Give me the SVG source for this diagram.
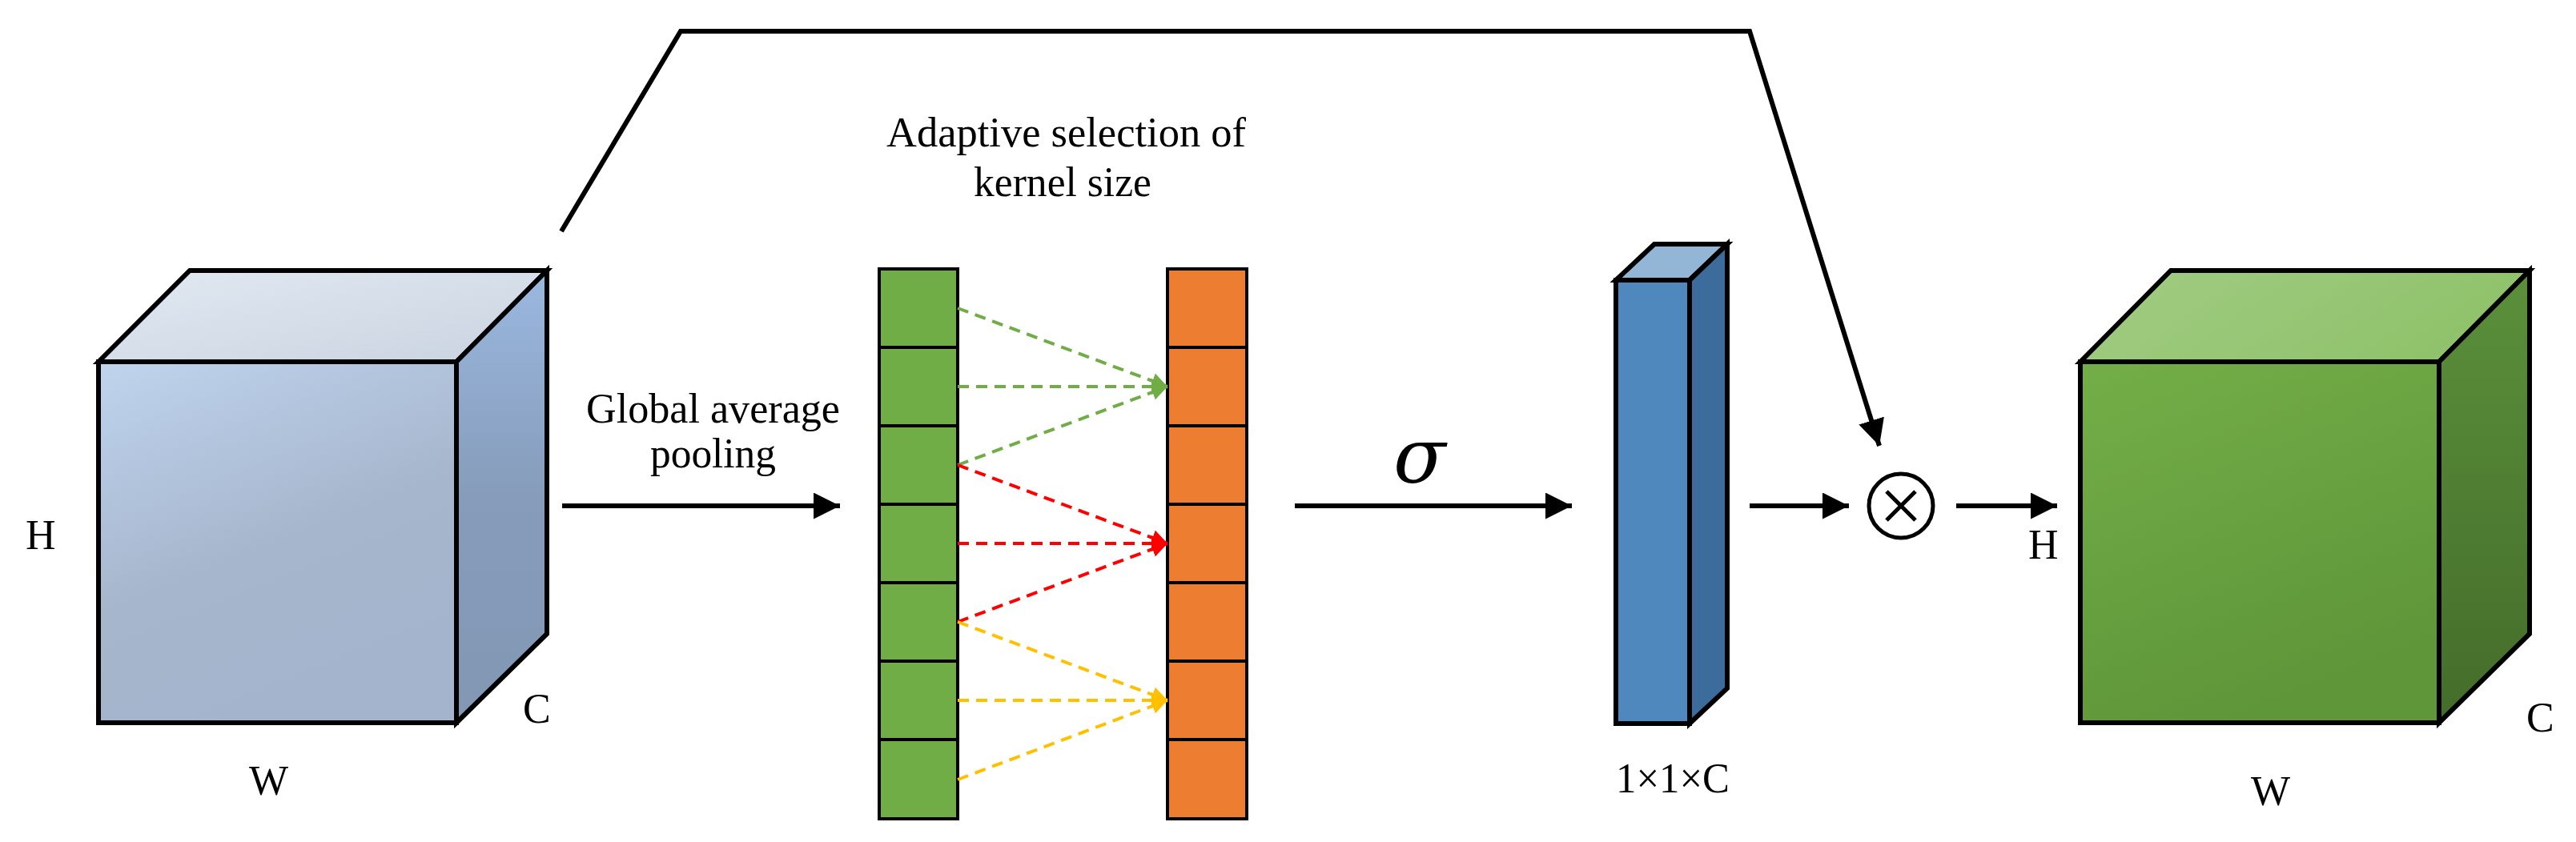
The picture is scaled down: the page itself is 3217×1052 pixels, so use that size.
<svg xmlns="http://www.w3.org/2000/svg" width="3217" height="1052" viewBox="0 0 3217 1052" font-family="'Liberation Serif', 'Times New Roman', 'DejaVu Serif', serif">
<style>
text{font-family:'Liberation Serif','Times New Roman','DejaVu Serif',serif;font-size:52px;fill:#000}
text.sig{font-family:'DejaVu Serif',serif;font-style:italic;font-size:96px}
.edge{stroke:#000;stroke-width:6;stroke-linejoin:miter}
.cell{stroke:#000;stroke-width:4}
.conn{stroke:#000;stroke-width:6;fill:none}
.dash{stroke-width:4;stroke-dasharray:14 9;fill:none}
</style>
<defs>
<marker id="ah" viewBox="0 0 10 10" refX="10" refY="5" markerWidth="5.5" markerHeight="5.5" markerUnits="strokeWidth" orient="auto"><path d="M0,0L10,5L0,10z" fill="#000"/></marker>
<marker id="ag" viewBox="0 0 10 10" refX="10" refY="5" markerWidth="5" markerHeight="5" markerUnits="strokeWidth" orient="auto"><path d="M0,0L10,5L0,10z" fill="#70ad47"/></marker>
<marker id="ar" viewBox="0 0 10 10" refX="10" refY="5" markerWidth="5" markerHeight="5" markerUnits="strokeWidth" orient="auto"><path d="M0,0L10,5L0,10z" fill="#ff0000"/></marker>
<marker id="ay" viewBox="0 0 10 10" refX="10" refY="5" markerWidth="5" markerHeight="5" markerUnits="strokeWidth" orient="auto"><path d="M0,0L10,5L0,10z" fill="#ffc000"/></marker>
<linearGradient id="bf" x1="0" y1="0" x2="0.4" y2="1"><stop offset="0" stop-color="#c0d4ee"/><stop offset="0.6" stop-color="#a6b6cd"/><stop offset="1" stop-color="#a4b4cc"/></linearGradient>
<linearGradient id="bt" x1="0" y1="0" x2="1" y2="1"><stop offset="0" stop-color="#e2e9f3"/><stop offset="1" stop-color="#c9d3df"/></linearGradient>
<linearGradient id="br" x1="0" y1="0" x2="0" y2="1"><stop offset="0" stop-color="#9bb8e0"/><stop offset="0.5" stop-color="#869cba"/><stop offset="1" stop-color="#8197b4"/></linearGradient>
<linearGradient id="gf" x1="0" y1="0" x2="0.4" y2="1"><stop offset="0" stop-color="#74ae48"/><stop offset="1" stop-color="#5e9639"/></linearGradient>
<linearGradient id="gt" x1="0" y1="0" x2="1" y2="0.3"><stop offset="0" stop-color="#a2cc84"/><stop offset="1" stop-color="#8fc26a"/></linearGradient>
<linearGradient id="gr" x1="0" y1="0" x2="0" y2="1"><stop offset="0" stop-color="#5b903b"/><stop offset="1" stop-color="#446c2a"/></linearGradient>
</defs>

<g id="input-cube">
<polygon class="edge" fill="url(#bt)" points="123,452 237,338 683,338 570,452"/>
<polygon class="edge" fill="url(#br)" points="570,452 683,338 683,792 570,903"/>
<rect class="edge" fill="url(#bf)" x="123" y="452" width="447" height="451"/>
<text x="32" y="686">H</text>
<text x="311" y="993">W</text>
<text x="653" y="903">C</text>
</g>

<g id="gap-vector">
<rect class="cell" fill="#70ad47" x="1098" y="336" width="98" height="98"/>
<rect class="cell" fill="#70ad47" x="1098" y="434" width="98" height="98"/>
<rect class="cell" fill="#70ad47" x="1098" y="532" width="98" height="98"/>
<rect class="cell" fill="#70ad47" x="1098" y="630" width="98" height="98"/>
<rect class="cell" fill="#70ad47" x="1098" y="728" width="98" height="98"/>
<rect class="cell" fill="#70ad47" x="1098" y="826" width="98" height="98"/>
<rect class="cell" fill="#70ad47" x="1098" y="924" width="98" height="99"/>
</g>

<g id="conv-vector">
<rect class="cell" fill="#ed7d31" x="1458" y="336" width="99" height="98"/>
<rect class="cell" fill="#ed7d31" x="1458" y="434" width="99" height="98"/>
<rect class="cell" fill="#ed7d31" x="1458" y="532" width="99" height="98"/>
<rect class="cell" fill="#ed7d31" x="1458" y="630" width="99" height="98"/>
<rect class="cell" fill="#ed7d31" x="1458" y="728" width="99" height="98"/>
<rect class="cell" fill="#ed7d31" x="1458" y="826" width="99" height="98"/>
<rect class="cell" fill="#ed7d31" x="1458" y="924" width="99" height="99"/>
<text x="1107" y="183" font-size="54" textLength="449" lengthAdjust="spacingAndGlyphs">Adaptive selection of</text>
<text x="1216" y="245" font-size="54" textLength="222" lengthAdjust="spacingAndGlyphs">kernel size</text>
</g>

<g id="sigmoid-bar">
<polygon class="edge" fill="#94b6d6" points="2018,350 2066,305 2157,305 2110,350"/>
<polygon class="edge" fill="#3c6c9b" points="2110,350 2157,305 2157,860 2110,904"/>
<rect class="edge" fill="#4e88bc" x="2018" y="350" width="92" height="554"/>
<text x="2018" y="990" textLength="142" lengthAdjust="spacingAndGlyphs">1×1×C</text>
</g>

<g id="multiply">
<circle cx="2374" cy="632" r="40" fill="#fff" stroke="#000" stroke-width="5"/>
<path d="M2356,614L2392,650M2392,614L2356,650" stroke="#000" stroke-width="5"/>
</g>

<g id="output-cube">
<polygon class="edge" fill="url(#gt)" points="2598,452 2711,338 3159,338 3046,452"/>
<polygon class="edge" fill="url(#gr)" points="3046,452 3159,338 3159,792 3046,903"/>
<rect class="edge" fill="url(#gf)" x="2598" y="452" width="448" height="451"/>
<text x="2533" y="698" font-size="44">H</text>
<text x="2811" y="1006">W</text>
<text x="3155" y="914">C</text>
</g>

<g id="connectors">
<path class="conn" d="M701,289L850,39L2185,39L2347,557" marker-end="url(#ah)"/>
<path class="conn" d="M702,632L1049,632" marker-end="url(#ah)"/>
<text x="732" y="528" font-size="56" textLength="317" lengthAdjust="spacingAndGlyphs">Global average</text>
<text x="812" y="584" font-size="56" textLength="157" lengthAdjust="spacingAndGlyphs">pooling</text>
<path class="conn" d="M1617,632L1963,632" marker-end="url(#ah)"/>
<text class="sig" x="1740" y="603">σ</text>
<path class="conn" d="M2185,632L2309,632" marker-end="url(#ah)"/>
<path class="conn" d="M2443,632L2569,632" marker-end="url(#ah)"/>
<path class="dash" stroke="#70ad47" d="M1196,385L1458,483" marker-end="url(#ag)"/>
<path class="dash" stroke="#70ad47" d="M1196,483L1458,483" marker-end="url(#ag)"/>
<path class="dash" stroke="#70ad47" d="M1196,581L1458,483" marker-end="url(#ag)"/>
<path class="dash" stroke="#ff0000" d="M1196,581L1458,679" marker-end="url(#ar)"/>
<path class="dash" stroke="#ff0000" d="M1196,679L1458,679" marker-end="url(#ar)"/>
<path class="dash" stroke="#ff0000" d="M1196,777L1458,679" marker-end="url(#ar)"/>
<path class="dash" stroke="#ffc000" d="M1196,777L1458,875" marker-end="url(#ay)"/>
<path class="dash" stroke="#ffc000" d="M1196,875L1458,875" marker-end="url(#ay)"/>
<path class="dash" stroke="#ffc000" d="M1196,974L1458,875" marker-end="url(#ay)"/>
</g>
</svg>
